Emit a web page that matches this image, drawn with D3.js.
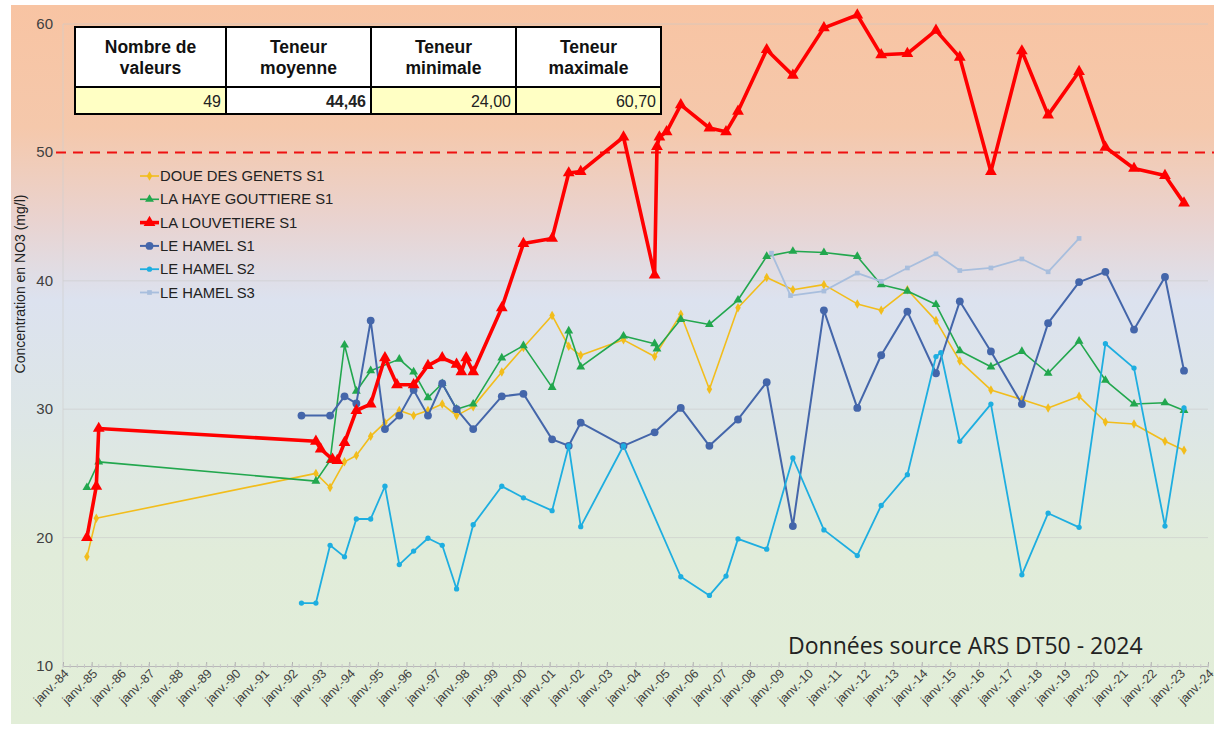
<!DOCTYPE html>
<html><head><meta charset="utf-8">
<script src="https://cdn.jsdelivr.net/npm/d3@7"></script>
<style>
html,body{margin:0;padding:0;background:#fff;}
svg{display:block;font-family:"Liberation Sans",Arial,sans-serif;}
</style></head><body>
<svg id="chart" width="1219" height="730"></svg>
<script>
// ---------------- DATA ----------------
const seriesNames = ["DOUE DES GENETS S1","LA HAYE GOUTTIERE S1","LA LOUVETIERE S1","LE HAMEL S1","LE HAMEL S2","LE HAMEL S3"];

const doueDates = ["1984-11","1985-03","1992-11","1993-05","1993-11","1994-04","1994-10","1995-04","1995-10","1996-04","1996-10","1997-04","1997-10","1998-05","1999-05","2000-02","2001-02","2001-09","2002-02","2003-08","2004-09","2005-08","2006-08","2007-08","2008-08","2009-07","2010-08","2011-10","2012-08","2013-07","2014-07","2015-05","2016-06","2017-07","2018-06","2019-07","2020-06","2021-06","2022-07","2023-03"];
const doueValues = [18.5,21.5,25.0,23.9,25.9,26.4,27.9,28.95,29.9,29.5,29.9,30.4,29.5,30.2,32.9,34.8,37.3,34.9,34.2,35.4,34.1,37.4,31.55,37.9,40.25,39.3,39.7,38.2,37.7,39.3,36.9,33.75,31.5,30.75,30.1,31.0,29.0,28.85,27.5,26.8];

const hayeDates = ["1984-11","1985-04","1992-11","1993-05","1993-11","1994-04","1994-10","1995-10","1996-04","1996-10","1997-04","1997-10","1998-05","1999-05","2000-02","2001-02","2001-09","2002-02","2003-08","2004-09","2004-10","2005-08","2006-08","2007-08","2008-08","2009-07","2010-08","2011-10","2012-08","2013-07","2014-07","2015-05","2016-06","2017-07","2018-06","2019-07","2020-06","2021-06","2022-07","2023-03"];
const hayeValues = [23.9,25.9,24.4,26.0,35.0,31.4,33.0,33.9,32.9,30.9,32.0,30.0,30.4,34.0,34.95,31.7,36.1,33.3,35.7,35.1,34.7,37.0,36.6,38.5,41.9,42.3,42.2,41.9,39.7,39.2,38.15,34.55,33.3,34.5,32.8,35.3,32.25,30.4,30.5,29.9];

const louvDates = ["1984-11","1985-03","1985-04","1992-11","1993-01","1993-06","1993-08","1993-11","1994-04","1994-10","1995-04","1995-09","1996-04","1996-10","1997-04","1997-10","1997-12","1998-02","1998-05","1999-05","2000-02","2001-02","2001-09","2002-02","2003-08","2004-09","2004-10","2004-11","2005-02","2005-08","2006-08","2007-03","2007-08","2008-08","2009-07","2010-08","2011-10","2012-08","2013-07","2014-07","2015-05","2016-06","2017-07","2018-06","2019-07","2020-06","2021-06","2022-07","2023-03"];
const louvValues = [20.0,24.0,28.5,27.5,26.9,26.1,26.0,27.4,29.9,30.4,34.0,31.9,31.9,33.4,34.0,33.5,32.9,34.0,32.9,37.9,42.9,43.3,48.4,48.5,51.2,40.45,50.45,51.2,51.6,53.7,51.9,51.6,53.2,58.0,56.0,59.7,60.7,57.6,57.7,59.5,57.4,48.5,57.9,52.9,56.3,50.4,48.75,48.2,46.05];

const hamel1Dates = ["1992-05","1993-05","1993-11","1994-04","1994-10","1995-04","1995-10","1996-04","1996-10","1997-04","1997-10","1998-05","1999-05","2000-02","2001-02","2001-09","2002-02","2003-08","2004-09","2005-08","2006-08","2007-08","2008-08","2009-07","2010-08","2011-10","2012-08","2013-07","2014-07","2015-05","2016-06","2017-07","2018-06","2019-07","2020-06","2021-06","2022-07","2023-03"];
const hamel1Values = [29.5,29.5,31.0,30.45,36.9,28.45,29.5,31.5,29.5,32.0,30.0,28.45,31.0,31.2,27.65,27.15,28.95,27.15,28.2,30.1,27.15,29.2,32.1,20.9,37.7,30.1,34.2,37.6,32.8,38.4,34.5,30.4,36.7,39.9,40.7,36.2,40.3,33.0];

const hamel2Dates = ["1992-05","1992-11","1993-05","1993-11","1994-04","1994-10","1995-04","1995-10","1996-04","1996-10","1997-04","1997-10","1998-05","1999-05","2000-02","2001-02","2001-09","2002-02","2003-08","2005-08","2006-08","2007-03","2007-08","2008-08","2009-07","2010-08","2011-10","2012-08","2013-07","2014-07","2014-09","2015-05","2016-06","2017-07","2018-06","2019-07","2020-06","2021-06","2022-07","2023-03"];
const hamel2Values = [14.9,14.9,19.4,18.5,21.45,21.45,24.0,17.9,18.95,19.95,19.4,16.0,21.0,24.0,23.1,22.1,27.15,20.85,27.15,16.95,15.5,17.0,19.9,19.1,26.2,20.6,18.6,22.5,24.9,34.1,34.4,27.5,30.4,17.1,21.9,20.8,35.1,33.2,20.9,30.1];

const hamel3Dates = ["2008-10","2009-06","2010-08","2011-10","2012-08","2013-07","2014-07","2015-05","2016-06","2017-07","2018-06","2019-07"];
const hamel3Values = [42.15,38.85,39.2,40.6,39.95,41.0,42.1,40.8,41.0,41.7,40.7,43.3];

const yTicks = [10,20,30,40,50,60];
const limitValue = 50;
const tableHeaders = [["Nombre de","valeurs"],["Teneur","moyenne"],["Teneur","minimale"],["Teneur","maximale"]];
const tableValues = ["49","44,46","24,00","60,70"];
const yTitle = "Concentration en NO3 (mg/l)";
const sourceText = "Données source ARS DT50 - 2024";

// ---------------- SETUP ----------------
const parse = d3.timeParse("%Y-%m");
const svg = d3.select("#chart");
const x = d3.scaleTime().domain([new Date(1984,0,1), new Date(2024,0,1)]).range([63,1208]);
const y = d3.scaleLinear().domain([10,60]).range([666,24]);

// background gradient
const defs = svg.append("defs");
const grad = defs.append("linearGradient").attr("id","bg").attr("x1",0).attr("y1",0).attr("x2",0).attr("y2",1);
[[0,"#f8c4a3"],[0.17,"#f5c8ab"],[0.3,"#e9d3d0"],[0.41,"#dce2ef"],[0.58,"#dde6e6"],[0.76,"#e1ecda"],[1,"#e2eed8"]]
  .forEach(([o,c])=>grad.append("stop").attr("offset",o).attr("stop-color",c));
svg.append("rect").attr("x",11).attr("y",5).attr("width",1203).attr("height",719).attr("fill","url(#bg)");

// gridlines
svg.append("g").selectAll("line").data(yTicks.filter(t=>t!==limitValue && t!==10)).join("line")
  .attr("x1",63).attr("x2",1208).attr("y1",d=>y(d)).attr("y2",d=>y(d))
  .attr("stroke","#c9c9c9").attr("stroke-opacity",0.6).attr("stroke-width",1);
svg.append("line").attr("x1",63).attr("x2",63).attr("y1",24).attr("y2",666).attr("stroke","#cfcfcf").attr("stroke-opacity",0.7);

// y axis labels
svg.append("g").selectAll("text").data(yTicks).join("text")
  .attr("x",53).attr("y",d=>y(d)+5).attr("text-anchor","end")
  .attr("font-size",15).attr("fill","#404040").text(d=>d);

// x axis
const xAxis = d3.axisBottom(x).ticks(d3.timeYear.every(1)).tickFormat(d3.timeFormat("janv.-%y")).tickSize(-4);
const gx = svg.append("g").attr("transform","translate(0,666)").call(xAxis);
gx.select(".domain").attr("stroke","#b8b8b8");
gx.selectAll(".tick line").attr("stroke","#b0b0b0");
gx.selectAll(".tick text").attr("font-size",12.5).attr("fill","#404040")
  .attr("font-family","'Liberation Sans',Arial,sans-serif")
  .attr("text-anchor","end").attr("dx","0.1em").attr("dy","0.1em")
  .attr("transform","translate(0,4) rotate(-45)").attr("y",6).attr("x",0);
// minor ticks
svg.append("g").selectAll("line").data(x.ticks(d3.timeMonth.every(3))).join("line")
  .attr("x1",d=>x(d)).attr("x2",d=>x(d)).attr("y1",664).attr("y2",668).attr("stroke","#c8c8c8");

// y title
svg.append("text").attr("transform","translate(25,284) rotate(-90)").attr("text-anchor","middle")
  .attr("font-size",14).attr("fill","#222").text(yTitle);

// limit line
svg.append("line").attr("x1",56).attr("x2",1214).attr("y1",y(limitValue)).attr("y2",y(limitValue))
  .attr("stroke","#ee1111").attr("stroke-width",2).attr("stroke-dasharray","10,7");

// series
const series = [
  {name:seriesNames[0], dates:doueDates, values:doueValues, color:"#f2bd1c", w:1.6, sym:d3.symbolDiamond, size:26},
  {name:seriesNames[1], dates:hayeDates, values:hayeValues, color:"#22a74e", w:1.6, sym:d3.symbolTriangle, size:34},
  {name:seriesNames[3], dates:hamel1Dates, values:hamel1Values, color:"#4466aa", w:2, sym:d3.symbolCircle, size:48},
  {name:seriesNames[4], dates:hamel2Dates, values:hamel2Values, color:"#1eaee0", w:1.8, sym:d3.symbolCircle, size:22},
  {name:seriesNames[5], dates:hamel3Dates, values:hamel3Values, color:"#a8bedd", w:1.8, sym:d3.symbolSquare, size:22},
  {name:seriesNames[2], dates:louvDates, values:louvValues, color:"#ff0000", w:3.6, sym:d3.symbolTriangle, size:60}
];
const line = d3.line().x(d=>x(d.d)).y(d=>y(d.v));
series.forEach(s=>{
  const pts = s.dates.map((dt,i)=>({d:parse(dt), v:s.values[i]}));
  svg.append("path").datum(pts).attr("d",line).attr("fill","none")
    .attr("stroke",s.color).attr("stroke-width",s.w).attr("stroke-linejoin","round");
  svg.append("g").selectAll("path").data(pts).join("path")
    .attr("d",d3.symbol().type(s.sym).size(s.size))
    .attr("transform",d=>`translate(${x(d.d)},${y(d.v)})`)
    .attr("fill",s.color);
});

// legend
const legendOrder = [0,1,5,2,3,4];
const lg = svg.append("g");
legendOrder.forEach((si,i)=>{
  const s = series[si];
  const ly = 176 + i*23.3;
  lg.append("line").attr("x1",140).attr("x2",159).attr("y1",ly).attr("y2",ly)
    .attr("stroke",s.color).attr("stroke-width",s.w);
  lg.append("path").attr("d",d3.symbol().type(s.sym).size(s.size)).attr("transform",`translate(149.5,${ly})`).attr("fill",s.color);
  lg.append("text").attr("x",160).attr("y",ly+5).attr("font-size",14.8).attr("fill","#222").text(s.name);
});

// table
const colX = [75,226,371,516,661];
const tg = svg.append("g");
tg.append("rect").attr("x",75).attr("y",27).attr("width",586).attr("height",60).attr("fill","#fff");
tableValues.forEach((v,i)=>{
  tg.append("rect").attr("x",colX[i]).attr("y",87).attr("width",colX[i+1]-colX[i]).attr("height",27)
    .attr("fill", i===1 ? "#ffffff" : "#ffffc4");
  tableHeaders[i].forEach((t,j)=>{
    tg.append("text").attr("x",(colX[i]+colX[i+1])/2).attr("y",53+j*21).attr("text-anchor","middle")
      .attr("font-size",17.5).attr("font-weight","bold").attr("fill","#111").text(t);
  });
  tg.append("text").attr("x",colX[i+1]-5).attr("y",107).attr("text-anchor","end")
    .attr("font-size",16).attr("font-weight", i===1 ? "bold" : "normal").attr("fill","#222").text(v);
});
tg.append("rect").attr("x",75).attr("y",27).attr("width",586).attr("height",87).attr("fill","none").attr("stroke","#000").attr("stroke-width",2);
tg.append("line").attr("x1",75).attr("x2",661).attr("y1",87).attr("y2",87).attr("stroke","#000").attr("stroke-width",2);
colX.slice(1,4).forEach(cx=>tg.append("line").attr("x1",cx).attr("x2",cx).attr("y1",27).attr("y2",114).attr("stroke","#000").attr("stroke-width",2));

// source
svg.append("text").attr("x",788).attr("y",654).attr("font-family","'Open Sans',sans-serif")
  .attr("font-size",23).attr("fill","#222").text(sourceText);
</script>
</body></html>
